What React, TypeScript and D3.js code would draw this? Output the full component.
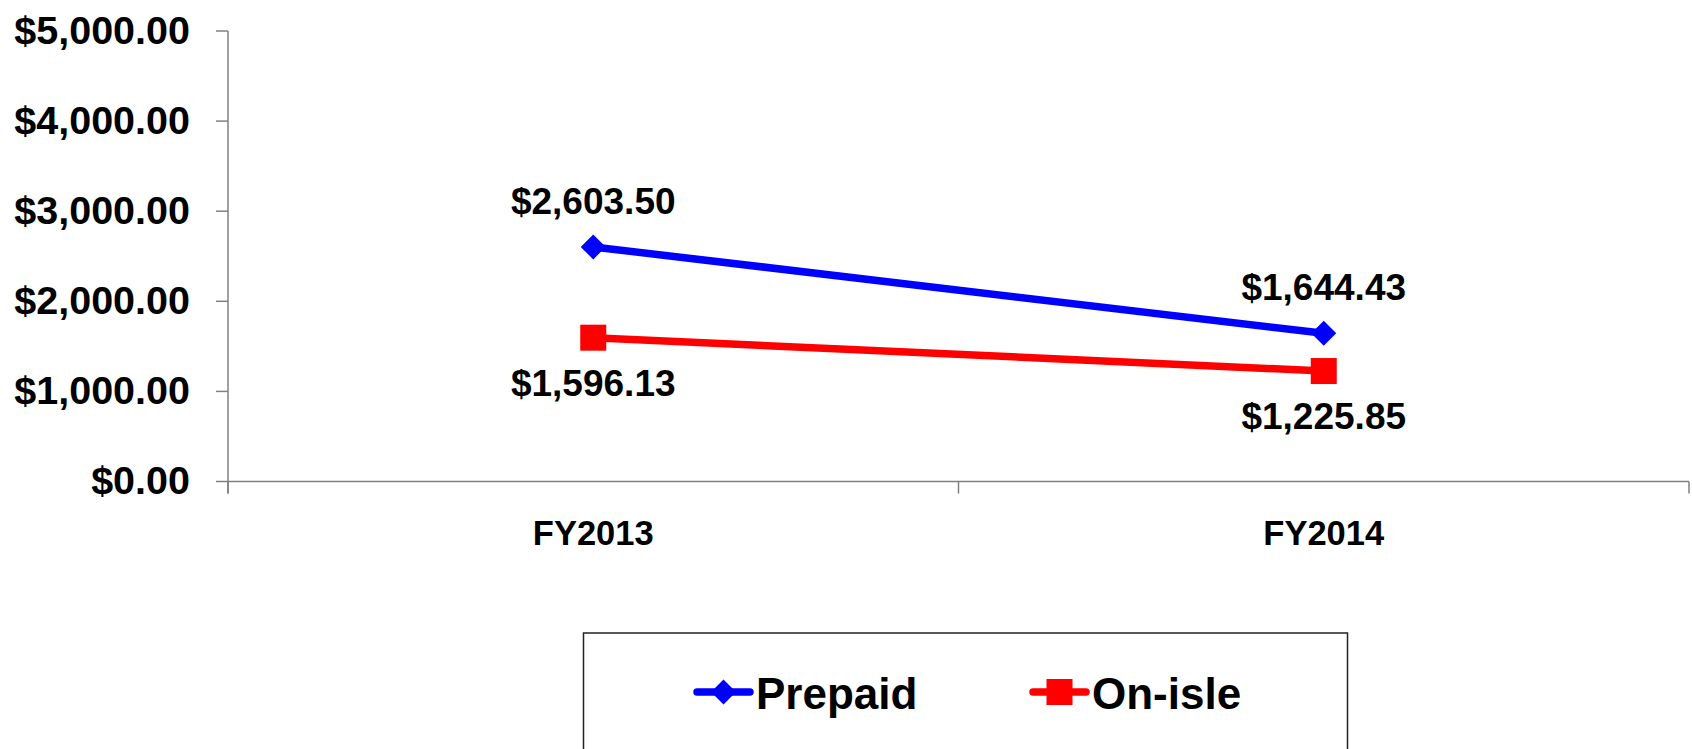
import React, { useEffect, useRef } from 'react';
import * as d3 from 'd3';

const categories = ['FY2013', 'FY2014'];
const prepaid = [2603.5, 1644.43];
const onIsle = [1596.13, 1225.85];
const yTicks = [0, 1000, 2000, 3000, 4000, 5000];

const seriesNames = ['Prepaid', 'On-isle'];
const seriesColors = ['#0000FF', '#FF0000'];

const FONT = '"Liberation Sans", Arial, sans-serif';

const App: React.FC = () => {
  const svgRef = useRef<SVGSVGElement | null>(null);

  useEffect(() => {
    const svg = d3.select(svgRef.current);
    svg.selectAll('*').remove();

    const width = 1692;
    const height = 749;
    const left = 228;
    const right = 1689;
    const top = 31;
    const bottom = 481.5;

    svg.attr('width', width).attr('height', height);

    const x = d3.scaleBand().domain(categories).range([left, right]).padding(0);
    const y = d3.scaleLinear().domain([0, 5000]).range([bottom, top]);
    const cx = (c: string) => (x(c) ?? 0) + x.bandwidth() / 2;
    const money = d3.format('$,.2f');

    const axisColor = '#808080';

    // y axis
    svg.append('line')
      .attr('x1', left).attr('x2', left)
      .attr('y1', top).attr('y2', bottom + 12)
      .attr('stroke', axisColor).attr('stroke-width', 1.5);

    yTicks.forEach((t) => {
      svg.append('line')
        .attr('x1', left - 12).attr('x2', left)
        .attr('y1', y(t)).attr('y2', y(t))
        .attr('stroke', axisColor).attr('stroke-width', 1.5);
      svg.append('text')
        .attr('x', 190)
        .attr('y', y(t))
        .attr('dy', '0.32em')
        .attr('text-anchor', 'end')
        .attr('font-family', FONT)
        .attr('font-weight', 'bold')
        .attr('font-size', 39.5)
        .text(money(t));
    });

    // x axis
    svg.append('line')
      .attr('x1', left).attr('x2', right)
      .attr('y1', bottom).attr('y2', bottom)
      .attr('stroke', axisColor).attr('stroke-width', 1.5);

    const bounds = [left, ...categories.map((c) => (x(c) ?? 0) + x.bandwidth())];
    bounds.forEach((b) => {
      svg.append('line')
        .attr('x1', b).attr('x2', b)
        .attr('y1', bottom).attr('y2', bottom + 12)
        .attr('stroke', axisColor).attr('stroke-width', 1.5);
    });

    categories.forEach((c) => {
      svg.append('text')
        .attr('x', cx(c))
        .attr('y', 545)
        .attr('text-anchor', 'middle')
        .attr('font-family', FONT)
        .attr('font-weight', 'bold')
        .attr('font-size', 34.5)
        .text(c);
    });

    const line = d3.line<number>()
      .x((_, i) => cx(categories[i]))
      .y((d) => y(d));

    const drawMarker = (g: d3.Selection<any, unknown, null, undefined>, kind: number, px: number, py: number, color: string) => {
      if (kind === 0) {
        g.append('path')
          .attr('d', `M${px},${py - 12.5}L${px + 12.5},${py}L${px},${py + 12.5}L${px - 12.5},${py}Z`)
          .attr('fill', color);
      } else {
        g.append('rect')
          .attr('x', px - 13).attr('y', py - 13)
          .attr('width', 26).attr('height', 26)
          .attr('fill', color);
      }
    };

    const series = [prepaid, onIsle];
    series.forEach((vals, s) => {
      svg.append('path')
        .datum(vals)
        .attr('d', line)
        .attr('fill', 'none')
        .attr('stroke', seriesColors[s])
        .attr('stroke-width', 7.5);

      vals.forEach((v, i) => {
        const px = cx(categories[i]);
        const py = y(v);
        drawMarker(svg as any, s, px, py, seriesColors[s]);
        svg.append('text')
          .attr('x', px)
          .attr('y', s === 0 ? py - 33 : py + 58)
          .attr('text-anchor', 'middle')
          .attr('font-family', FONT)
          .attr('font-weight', 'bold')
          .attr('font-size', 37)
          .text(money(v));
      });
    });

    // legend
    svg.append('rect')
      .attr('x', 583.5).attr('y', 633)
      .attr('width', 764).attr('height', 140)
      .attr('fill', 'white')
      .attr('stroke', '#222').attr('stroke-width', 1.5);

    const legendX = [694, 1030];
    seriesNames.forEach((name, s) => {
      const lx = legendX[s];
      const ly = 692;
      svg.append('line')
        .attr('x1', lx + 3).attr('x2', lx + 56)
        .attr('y1', ly).attr('y2', ly)
        .attr('stroke', seriesColors[s])
        .attr('stroke-width', 7.5)
        .attr('stroke-linecap', 'round');
      drawMarker(svg as any, s, lx + 29.5, ly, seriesColors[s]);
      svg.append('text')
        .attr('x', lx + 62)
        .attr('y', 709)
        .attr('font-family', FONT)
        .attr('font-weight', 'bold')
        .attr('font-size', 44)
        .text(name);
    });
  }, []);

  return (
    <div style={{ position: 'absolute', left: 0, top: 0 }}>
      <svg ref={svgRef} style={{ display: 'block' }}></svg>
    </div>
  );
};

export default App;
